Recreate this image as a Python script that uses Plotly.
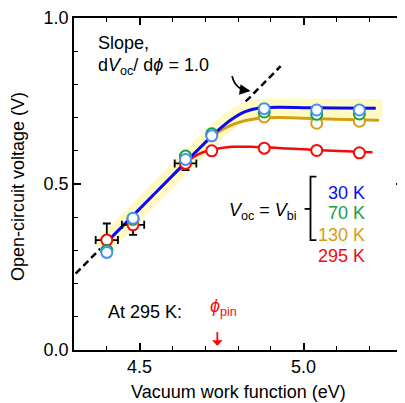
import plotly.graph_objects as go

# ---- data ----
phi = [4.40, 4.48, 4.64, 4.72, 4.88, 5.04, 5.17]
v30 = [0.294, 0.397, 0.574, 0.645, 0.727, 0.723, 0.723]
v70 = [0.300, 0.395, 0.584, 0.651, 0.717, 0.710, 0.711]
v130 = [0.298, 0.392, 0.580, 0.648, 0.702, 0.683, 0.689]
v295 = [0.331, 0.377, 0.562, 0.600, 0.608, 0.601, 0.594]

err_phi = [4.40, 4.48, 4.64]
err_v = [0.331, 0.377, 0.562]
err_dx = [0.034, 0.034, 0.033]
err_dy = [0.05, 0.03, 0.02]

fit30_x = [4.40, 4.50, 4.60, 4.70, 4.74, 4.78, 4.82, 4.86, 4.92, 5.00, 5.10, 5.22]
fit30_y = [0.325, 0.425, 0.525, 0.625, 0.662, 0.694, 0.717, 0.728, 0.731, 0.730, 0.729, 0.728]

fit130_x = [4.60, 4.66, 4.72, 4.76, 4.80, 4.85, 4.92, 5.00, 5.10, 5.23]
fit130_y = [0.525, 0.585, 0.643, 0.668, 0.685, 0.696, 0.700, 0.698, 0.695, 0.692]

fit295_x = [4.56, 4.60, 4.64, 4.66, 4.68, 4.72, 4.78, 4.84, 4.95, 5.05, 5.21]
fit295_y = [0.485, 0.525, 0.560, 0.578, 0.590, 0.603, 0.612, 0.612, 0.607, 0.602, 0.596]

band_x = [4.38, 4.50, 4.60, 4.70, 4.74, 4.78, 4.82, 4.86, 4.92, 5.00, 5.10, 5.24]
band_y = [0.305, 0.425, 0.525, 0.625, 0.662, 0.694, 0.717, 0.728, 0.731, 0.730, 0.729, 0.728]

slope_x = [4.305, 4.93]
slope_y = [0.230, 0.855]

xticks = [4.5, 5.0]
xticklabels = ["4.5", "5.0"]
yticks = [0.0, 0.5, 1.0]
yticklabels = ["0.0", "0.5", "1.0"]

FONT = "Liberation Sans, Arial, Helvetica, sans-serif"
BLUE = "rgb(10,10,245)"
GOLD = "rgb(212,158,16)"
GREEN = "rgb(20,160,70)"
RED = "rgb(245,10,10)"
MBLUE = "rgb(70,145,240)"

fig = go.Figure()

# slope guide line
fig.add_trace(go.Scatter(x=slope_x, y=slope_y, mode="lines",
                         line=dict(color="black", width=2.5, dash="7px,4px"),
                         hoverinfo="skip", showlegend=False))
# yellow highlight band
fig.add_trace(go.Scatter(x=band_x, y=band_y, mode="lines",
                         line=dict(color="rgb(255,249,196)", width=18, shape="spline", smoothing=0.6),
                         hoverinfo="skip", showlegend=False))
# fitted curves
fig.add_trace(go.Scatter(x=fit295_x, y=fit295_y, mode="lines",
                         line=dict(color=RED, width=2.5, shape="spline", smoothing=0.6),
                         showlegend=False))
fig.add_trace(go.Scatter(x=fit130_x, y=fit130_y, mode="lines",
                         line=dict(color=GOLD, width=3, shape="spline", smoothing=0.6),
                         showlegend=False))
fig.add_trace(go.Scatter(x=fit30_x, y=fit30_y, mode="lines",
                         line=dict(color=BLUE, width=3, shape="spline", smoothing=0.6),
                         showlegend=False))
# error bars
fig.add_trace(go.Scatter(x=err_phi, y=err_v, mode="markers",
                         marker=dict(size=1, color="rgba(0,0,0,0)"),
                         error_x=dict(type="data", array=err_dx, color="black", thickness=1.8, width=4),
                         error_y=dict(type="data", array=err_dy, color="black", thickness=1.8, width=4),
                         showlegend=False))
# markers
for vals, col in [(v295, RED), (v130, GOLD), (v70, GREEN), (v30, MBLUE)]:
    fig.add_trace(go.Scatter(x=phi, y=vals, mode="markers",
                             marker=dict(symbol="circle", size=11, color="white",
                                         line=dict(color=col, width=2)),
                             showlegend=False))

# bracket
fig.add_shape(type="path", xref="x", yref="y",
              path="M 5.039,0.522 L 5.021,0.522 L 5.021,0.331 L 5.039,0.331",
              line=dict(color="black", width=1.8))
fig.add_shape(type="line", xref="x", yref="y", x0=5.003, x1=5.021, y0=0.425, y1=0.425,
              line=dict(color="black", width=1.8))
# curved arrow
fig.add_shape(type="path", xref="x", yref="y",
              path="M 4.782,0.825 Q 4.792,0.784 4.832,0.781",
              line=dict(color="black", width=1.8))
# red pinning arrow shaft
fig.add_shape(type="line", xref="x", yref="y", x0=4.737, x1=4.737, y0=0.054, y1=0.018,
              line=dict(color=RED, width=1.8))

ann = []
def txt(x, y, t, color="black", xanchor="left", size=18):
    ann.append(dict(x=x, y=y, xref="x", yref="y", text=t, showarrow=False,
                    xanchor=xanchor, yanchor="middle",
                    font=dict(family=FONT, size=size, color=color)))

txt(4.366, 0.925, "Slope,")
txt(4.366, 0.855, "d<i>V</i><sub>oc</sub>/ d<i>ϕ</i> = 1.0")
txt(4.985, 0.418, "<i>V</i><sub>oc</sub> = <i>V</i><sub>bi</sub>", xanchor="right")
txt(5.193, 0.474, "30 K", BLUE, "right")
txt(5.193, 0.412, "70 K", GREEN, "right")
txt(5.193, 0.346, "130 K", GOLD, "right")
txt(5.193, 0.283, "295 K", RED, "right")
txt(4.399, 0.115, "At 295 K:")
txt(4.708, 0.127, "<i>ϕ</i><sub>pin</sub>", RED)

# axis titles placed as annotations relative to the plot box
ann.append(dict(x=0.5, y=0, xref="paper", yref="paper", yshift=-42, xanchor="center", yanchor="middle",
                text="Vacuum work function (eV)", showarrow=False,
                font=dict(family=FONT, size=18, color="black")))
ann.append(dict(x=0, y=0.491, xref="paper", yref="paper", xshift=-56, xanchor="center", yanchor="middle",
                text="Open-circuit voltage (V)", textangle=-90, showarrow=False,
                font=dict(family=FONT, size=18, color="black")))

# arrowheads
ann.append(dict(x=4.838, y=0.780, xref="x", yref="y", ax=-7, ay=-1,
                showarrow=True, arrowhead=2, arrowsize=1.2, arrowwidth=1.8, arrowcolor="black", text=""))
ann.append(dict(x=4.737, y=0.013, xref="x", yref="y", ax=0, ay=-6,
                showarrow=True, arrowhead=1, arrowsize=1.0, arrowwidth=1.8, arrowcolor=RED, text=""))

axis_common = dict(showline=True, linecolor="black", linewidth=1.6, mirror="allticks",
                   ticks="inside", ticklen=7, tickwidth=1.5, tickcolor="black",
                   showgrid=False, zeroline=False,
                   tickfont=dict(family=FONT, size=18, color="black"))

# page body adds an 8px offset; margins compensate so the plot box lands where the reference has it
fig.update_layout(
    width=397, height=395,
    margin=dict(l=66, r=0, t=10, b=53),
    paper_bgcolor="white", plot_bgcolor="white",
    annotations=ann,
    xaxis=dict(range=[4.3, 4.3 + 331 / 330], tickvals=xticks, ticktext=xticklabels,
               minor=dict(dtick=0.1, tick0=4.3, ticks="inside", ticklen=4, tickwidth=1.3, tickcolor="black"),
               **axis_common),
    yaxis=dict(range=[0, 1.0], tickvals=yticks, ticktext=yticklabels,
               minor=dict(dtick=0.1, tick0=0, ticks="inside", ticklen=4, tickwidth=1.3, tickcolor="black"),
               **axis_common),
)

fig.write_html("out.html")
